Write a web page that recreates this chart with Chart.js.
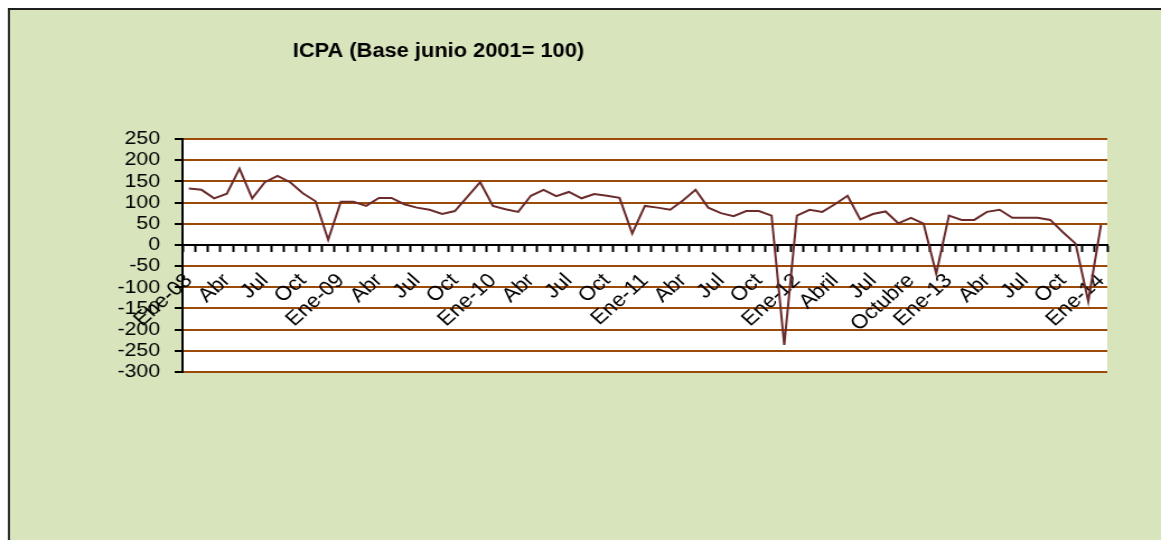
<!DOCTYPE html>
<html>
<head>
<meta charset="utf-8">
<script src="https://cdn.jsdelivr.net/npm/chart.js@4/dist/chart.umd.min.js"></script>
<style>
  body { margin: 0; background: #fff; overflow: hidden; }
  #icpaChart { position: absolute; left: 0; top: 0; display: block; }
</style>
</head>
<body>
<!-- drawn 1037 wide and shown 1161 wide: the original picture is stretched sideways -->
<canvas id="icpaChart" width="1037" height="540" style="width:1161px;height:540px"></canvas>
<script>
// tick labels, one every 3 months (Ene-08 .. Ene-14)
const tickLabels = [
  "Ene-08", "Abr", "Jul", "Oct",
  "Ene-09", "Abr", "Jul", "Oct",
  "Ene-10", "Abr", "Jul", "Oct",
  "Ene-11", "Abr", "Jul", "Oct",
  "Ene-12", "Abril", "Jul", "Octubre",
  "Ene-13", "Abr", "Jul", "Oct",
  "Ene-14"
];

// monthly values
const icpa2008 = [133, 130, 110, 121, 180, 110, 148, 163, 148, 122, 103, 12];
const icpa2009 = [102, 102, 92, 111, 111, 96, 88, 83, 73, 80, 114, 148];
const icpa2010 = [92, 84, 78, 116, 130, 115, 125, 110, 120, 116, 111, 27];
const icpa2011 = [92, 88, 83, 105, 130, 88, 75, 68, 80, 80, 69, -236];
const icpa2012 = [69, 83, 78, 96, 116, 60, 73, 79, 51, 64, 50, -68];
const icpa2013 = [69, 59, 59, 78, 83, 64, 64, 64, 59, 30, 3, -133];
const icpa2014 = [47];

const values = [].concat(icpa2008, icpa2009, icpa2010, icpa2011, icpa2012, icpa2013, icpa2014);

// one category per month, text only on every third one
const categories = values.map((v, i) => (i % 3 === 0 ? tickLabels[i / 3] : ""));

const FONT = "'Liberation Sans', Arial, sans-serif";

// green frame with dark edge, white plot area, title text
const chartFrame = {
  id: "chartFrame",
  beforeDraw(chart) {
    const { ctx, chartArea, width, height } = chart;
    ctx.save();
    ctx.fillStyle = "#ffffff";
    ctx.fillRect(0, 0, width, height);
    ctx.fillStyle = "#d8e4bc";
    ctx.fillRect(7.1, 8, width, height);
    ctx.fillStyle = "#1e1e1e";
    ctx.fillRect(7.1, 8, width, 2);
    ctx.fillRect(7.1, 8, 1.8, height);
    ctx.fillStyle = "#ffffff";
    ctx.fillRect(chartArea.left, chartArea.top, chartArea.right - chartArea.left, chartArea.bottom - chartArea.top);
    ctx.restore();
  },
  afterDraw(chart) {
    const ctx = chart.ctx;
    ctx.save();
    ctx.font = "bold 19.5px " + FONT;
    ctx.fillStyle = "#000";
    ctx.textAlign = "left";
    ctx.textBaseline = "alphabetic";
    ctx.fillText("ICPA (Base junio 2001= 100)", 261.5, 57);
    ctx.restore();
  }
};

const ctx = document.getElementById("icpaChart").getContext("2d");

new Chart(ctx, {
  type: "line",
  data: {
    labels: categories,
    datasets: [
      {
        label: "ICPA",
        data: values,
        borderColor: "#6b2b2b",
        borderWidth: 2,
        pointRadius: 0,
        tension: 0,
        fill: false
      }
    ]
  },
  options: {
    responsive: false,
    animation: false,
    layout: {
      padding: { left: 0, top: 139, right: 48, bottom: 168 }
    },
    plugins: {
      legend: { display: false },
      tooltip: { enabled: false }
    },
    scales: {
      x: {
        type: "category",
        offset: true,
        position: { y: 0 },
        border: { color: "#000", width: 2 },
        grid: {
          offset: true,
          drawOnChartArea: false,
          drawTicks: true,
          tickLength: 6,
          tickColor: "#000",
          tickWidth: 2
        },
        ticks: {
          autoSkip: false,
          minRotation: 45,
          maxRotation: 45,
          padding: 18,
          color: "#000",
          font: { family: FONT, size: 20 }
        }
      },
      y: {
        min: -300,
        max: 250,
        afterFit(scale) {
          scale.width = 163;
        },
        border: { color: "#000", width: 2 },
        grid: {
          color: "#9c4a08",
          lineWidth: 2,
          tickLength: 7,
          tickColor: "#000",
          tickWidth: 2
        },
        ticks: {
          stepSize: 50,
          autoSkip: false,
          padding: 13,
          color: "#000",
          font: { family: FONT, size: 19 }
        }
      }
    }
  },
  plugins: [chartFrame]
});
</script>
</body>
</html>
